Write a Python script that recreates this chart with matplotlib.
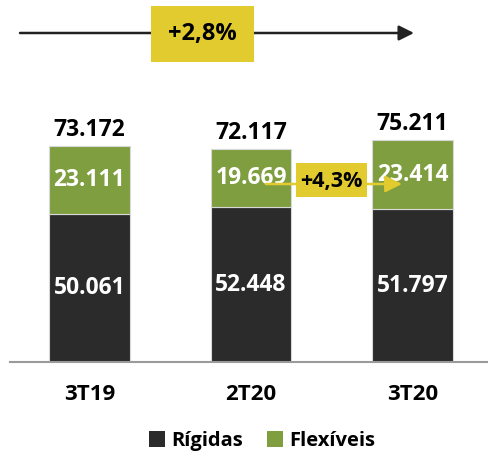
import matplotlib
matplotlib.use("Agg")
import matplotlib.pyplot as plt
from matplotlib.patches import Rectangle

categories = ["3T19", "2T20", "3T20"]
rigidas = [50061, 52448, 51797]
flexiveis = [23111, 19669, 23414]
totals = [73172, 72117, 75211]
rigidas_labels = ["50.061", "52.448", "51.797"]
flexiveis_labels = ["23.111", "19.669", "23.414"]
total_labels = ["73.172", "72.117", "75.211"]
top_growth = "+2,8%"
mid_growth = "+4,3%"

DARK = "#2b2b2b"
GREEN = "#7f9e3f"
YELLOW = "#e2cb2e"
FONT = "Open Sans"

W, H = 489, 458
fig = plt.figure(figsize=(W / 100, H / 100), dpi=100)
ax = fig.add_axes([10 / W, 96 / H, 479 / W, 362 / H])
px_per_unit = 216 / 73172
XPX = 161.5
X0 = -(89.5 - 10) / XPX
ax.set_xlim(X0, X0 + 479 / XPX)
ax.set_ylim(0, 362 / px_per_unit)

x = list(range(len(categories)))
bw = 0.50
ax.bar(x, rigidas, width=bw, color=DARK, edgecolor="#d8d8d8", linewidth=0.8, label="Rígidas", zorder=2)
ax.bar(x, flexiveis, width=bw, bottom=rigidas, color=GREEN, edgecolor="#d8d8d8", linewidth=0.8, label="Flexíveis", zorder=2)

for i in x:
    ax.text(i, rigidas[i] / 2, rigidas_labels[i], ha="center", va="center", color="white",
            fontsize=16.5, fontweight="bold", family=FONT, zorder=4)
    ax.text(i, rigidas[i] + flexiveis[i] / 2, flexiveis_labels[i], ha="center", va="center",
            color="white", fontsize=16.5, fontweight="bold", family=FONT, zorder=4)
    ax.text(i, totals[i] + 16 / px_per_unit, total_labels[i], ha="center", va="center",
            color="black", fontsize=16.5, fontweight="bold", family=FONT, zorder=4)

# axis styling
for s in ["top", "right", "left"]:
    ax.spines[s].set_visible(False)
ax.spines["bottom"].set_color("#9a9a9a")
ax.spines["bottom"].set_linewidth(1.5)
ax.set_yticks([])
ax.set_xticks(x)
ax.set_xticklabels(categories, fontsize=16, fontweight="bold", family=FONT)
ax.tick_params(axis="x", length=0, pad=16)

def px_to_data(px, py):
    xd = X0 + (px - 10) / XPX
    yd = (362 - py) / px_per_unit
    return xd, yd

# top arrow
a0 = px_to_data(20, 33)
a1 = px_to_data(414, 33)
ax.annotate("", xy=a1, xytext=a0, annotation_clip=False,
            arrowprops=dict(arrowstyle="-|>,head_length=0.9,head_width=0.45", color="#222222", lw=1.8,
                            shrinkA=0, shrinkB=0))
b0 = px_to_data(151, 62)
b1 = px_to_data(254, 6)
ax.add_patch(Rectangle(b0, b1[0] - b0[0], b1[1] - b0[1], facecolor=YELLOW, edgecolor="none",
                       zorder=5, clip_on=False))
c = px_to_data(202.5, 34)
ax.text(c[0], c[1], top_growth, ha="center", va="center", fontsize=17, fontweight="bold",
        family=FONT, color="black", zorder=6, clip_on=False)

# middle arrow
m0 = px_to_data(266, 184)
m1 = px_to_data(402, 184)
ax.annotate("", xy=m1, xytext=m0, annotation_clip=False,
            arrowprops=dict(arrowstyle="-|>,head_length=1.0,head_width=0.5", color=YELLOW, lw=1.8,
                            shrinkA=0, shrinkB=0), zorder=5)
mb0 = px_to_data(296, 197)
mb1 = px_to_data(367, 163)
ax.add_patch(Rectangle(mb0, mb1[0] - mb0[0], mb1[1] - mb0[1], facecolor=YELLOW, edgecolor="none",
                       zorder=6, clip_on=False))
mc = px_to_data(331.5, 181)
ax.text(mc[0], mc[1], mid_growth, ha="center", va="center", fontsize=15.5, fontweight="bold",
        family=FONT, color="black", zorder=7, clip_on=False)

leg = fig.legend(loc="center", bbox_to_anchor=(262 / W, 1 - 441 / H), ncol=2, frameon=False,
                 prop=dict(family=FONT, weight="bold", size=14.5), handlelength=0.8, handleheight=0.8,
                 handletextpad=0.3, columnspacing=1.2)
for p in leg.get_patches():
    p.set_edgecolor("none")

fig.savefig("out.png", dpi=100)
